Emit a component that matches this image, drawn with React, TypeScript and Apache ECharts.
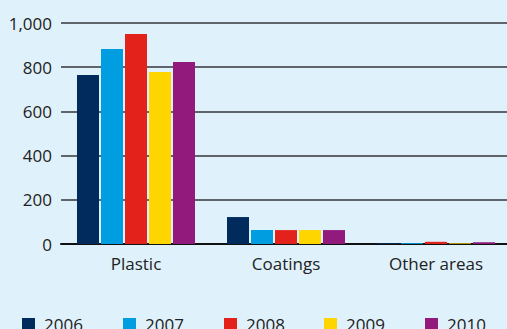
import React, { useEffect, useRef } from "react";
import * as echarts from "echarts";

const categories = ["Plastic", "Coatings", "Other areas"];
const years = ["2006", "2007", "2008", "2009", "2010"];
const v2006 = [765, 122, 4];
const v2007 = [882, 63, 4];
const v2008 = [950, 63, 10];
const v2009 = [778, 63, 3];
const v2010 = [823, 63, 8];
const yTicks = [0, 200, 400, 600, 800, 1000];

const colors = ["#002b5c", "#009ee0", "#e3231b", "#ffd500", "#921a7c"];
const seriesValues = [v2006, v2007, v2008, v2009, v2010];
const legendLefts = [22, 123, 224, 324, 425];
const FONT = "'Open Sans', sans-serif";

export default function App() {
  const ref = useRef<HTMLDivElement>(null);
  useEffect(() => {
    if (!ref.current) return;
    const chart = echarts.init(ref.current, undefined, { renderer: "svg" });
    chart.setOption({
      animation: false,
      backgroundColor: "#dff1fb",
      textStyle: { fontFamily: FONT },
      grid: { left: 61, right: 0, top: 23, bottom: 85 },
      legend: years.map((y, i) => ({
        data: [y],
        left: legendLefts[i],
        top: 316,
        itemWidth: 13,
        itemHeight: 13,
        icon: "rect",
        padding: 0,
        textStyle: { fontSize: 17, color: "#222", fontFamily: FONT, padding: [0, 0, 0, 4] },
      })),
      xAxis: {
        type: "category",
        data: categories,
        axisTick: { show: false },
        axisLine: { lineStyle: { color: "#111", width: 2 } },
        axisLabel: { fontSize: 17, color: "#222", margin: 11, fontFamily: FONT },
      },
      yAxis: {
        type: "value",
        min: yTicks[0],
        max: yTicks[yTicks.length - 1],
        interval: 200,
        axisLine: { show: false },
        axisTick: { show: false },
        axisLabel: {
          fontSize: 17,
          color: "#222",
          margin: 9,
          fontFamily: FONT,
          formatter: (v: number) => v.toLocaleString("en-US"),
        },
        splitLine: { lineStyle: { color: "#5f656b", width: 2 } },
      },
      series: years.map((y, i) => ({
        name: y,
        type: "bar",
        data: seriesValues[i],
        itemStyle: { color: colors[i] },
        barWidth: 22,
        barGap: "9.1%",
        barCategoryGap: "21.3%",
      })),
    });
    return () => chart.dispose();
  }, []);
  return (
    <div style={{ position: "fixed", left: 0, top: 0, width: 507, height: 329, overflow: "hidden" }}>
      <div ref={ref} style={{ width: 511, height: 329 }} />
    </div>
  );
}
